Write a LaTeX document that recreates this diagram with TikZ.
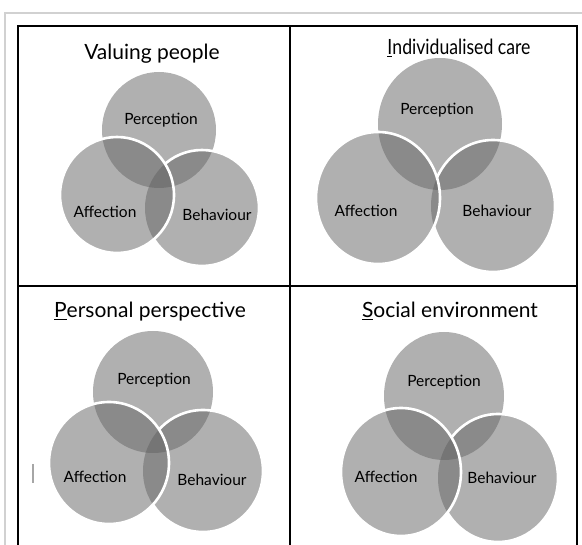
\documentclass[tikz,border=0pt]{standalone}
\usepackage{fontspec}
\setmainfont{Lato}

\tikzset{
  lightdisc/.style={fill=black!31},
  middisc/.style={fill=black!46},
  darkdisc/.style={fill=black!54},
  rim/.style={draw=white, line width=2.6pt},
  heading/.style={font=\fontsize{21}{24}\selectfont, anchor=base, inner sep=0pt},
  circlabel/.style={font=\fontsize{15.5}{18}\selectfont, inner sep=1pt},
  grid/.style={draw=black, line width=1.4pt},
}

% shading of the three overlapping ovals of one panel
\newcommand\vennfill[3]{%
  \fill[lightdisc] (p#1) ellipse [x radius=#2, y radius=#3];
  \fill[lightdisc] (a#1) ellipse [x radius=#2, y radius=#3];
  \fill[lightdisc] (b#1) ellipse [x radius=#2, y radius=#3];
  \begin{scope}
    \clip (p#1) ellipse [x radius=#2, y radius=#3];
    \fill[middisc] (a#1) ellipse [x radius=#2, y radius=#3];
    \fill[middisc] (b#1) ellipse [x radius=#2, y radius=#3];
  \end{scope}
  \begin{scope}
    \clip (a#1) ellipse [x radius=#2, y radius=#3];
    \fill[middisc] (b#1) ellipse [x radius=#2, y radius=#3];
  \end{scope}
  \begin{scope}
    \clip (p#1) ellipse [x radius=#2, y radius=#3];
    \clip (a#1) ellipse [x radius=#2, y radius=#3];
    \fill[darkdisc] (b#1) ellipse [x radius=#2, y radius=#3];
  \end{scope}
}
% ovals with their white rims
\newcommand\venn[3]{%
  \vennfill{#1}{#2}{#3}
  \draw[rim] (b#1) ellipse [x radius=#2, y radius=#3];
  \begin{scope}
    \clip (a#1) ellipse [x radius=#2, y radius=#3];
    \vennfill{#1}{#2}{#3}
  \end{scope}
  \draw[rim] (a#1) ellipse [x radius=#2, y radius=#3];
}

\begin{document}
\begin{tikzpicture}[x=1pt, y=-1pt]
  \useasboundingbox (0,0) rectangle (582,545);

  % frames
  \draw[black!18, line width=1.8pt] (5,545) -- (5,13) -- (582,13);
  \draw[grid] (18,545) -- (18,26) -- (577,26) -- (577,545);
  \draw[grid] (290,26) -- (290,545);
  \draw[grid] (18,286) -- (577,286);
  \draw[black!35, line width=1.6pt] (33,464) -- (33,483);

  % centres of the ovals
  \coordinate (p1) at (159,130); \coordinate (a1) at (117,195); \coordinate (b1) at (202,208);
  \coordinate (p2) at (440,124); \coordinate (a2) at (378,198); \coordinate (b2) at (493,206);
  \coordinate (p3) at (153,392); \coordinate (a3) at (109,463); \coordinate (b3) at (203,471);
  \coordinate (p4) at (444,396); \coordinate (a4) at (401,472); \coordinate (b4) at (498,478);

  \venn{1}{57}{58}
  \venn{2}{62}{66}
  \venn{3}{60}{61}
  \venn{4}{60}{64}

  % headings
  \node[heading] (title1) at (152,60) {Valuing people};
  \node[heading] (title2) at (459,55) {\scalebox{0.84}[1]{\underline{I}ndividualised care}};
  \node[heading] (title3) at (150,318) {\underline{P}ersonal perspective};
  \node[heading] (title4) at (450,318) {\underline{S}ocial environment};

  % labels
  \node[circlabel] (perc1) at (161,120) {Perception};
  \node[circlabel] (affe1) at (105,212) {Affection};
  \node[circlabel] (beha1) at (217,215) {Behaviour};
  \node[circlabel] (perc2) at (437,110) {Perception};
  \node[circlabel] (affe2) at (366,211) {Affection};
  \node[circlabel] (beha2) at (497,211) {Behaviour};
  \node[circlabel] (perc3) at (154,380) {Perception};
  \node[circlabel] (affe3) at (95,477) {Affection};
  \node[circlabel] (beha3) at (212,480) {Behaviour};
  \node[circlabel] (perc4) at (444,382) {Perception};
  \node[circlabel] (affe4) at (386,477) {Affection};
  \node[circlabel] (beha4) at (502,478) {Behaviour};
\end{tikzpicture}
\end{document}
